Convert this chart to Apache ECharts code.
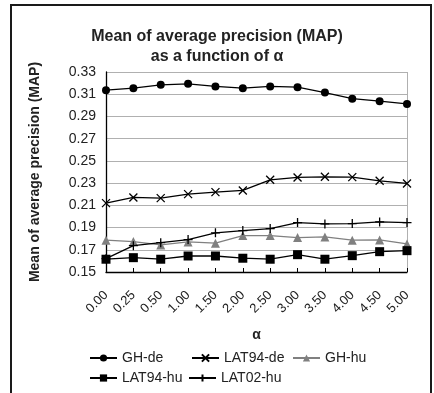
<!DOCTYPE html>
<html>
<head>
<meta charset="utf-8">
<script src="https://cdn.jsdelivr.net/npm/echarts@6/dist/echarts.min.js"></script>
<style>
  html, body { margin: 0; padding: 0; background: #fff; }
  #chart { width: 434px; height: 393px; }
</style>
</head>
<body>
<div id="chart"></div>
<script>
const alphas = ['0.00', '0.25', '0.50', '1.00', '1.50', '2.00', '2.50', '3.00', '3.50', '4.00', '4.50', '5.00']
const ghDe = [0.3136, 0.3154, 0.3185, 0.3194, 0.317, 0.3154, 0.317, 0.3163, 0.3115, 0.306, 0.3037, 0.3013]
const lat94De = [0.212, 0.2171, 0.2165, 0.2201, 0.2219, 0.2234, 0.233, 0.2351, 0.2357, 0.2354, 0.2321, 0.2297]
const ghHu = [0.1786, 0.1774, 0.1744, 0.1771, 0.1759, 0.1828, 0.1828, 0.181, 0.1816, 0.1786, 0.1789, 0.1753]
const lat94Hu = [0.1615, 0.1629, 0.1615, 0.1644, 0.1644, 0.1624, 0.1615, 0.1656, 0.1615, 0.1647, 0.1683, 0.1692]
const lat02Hu = [0.162, 0.1737, 0.1764, 0.1792, 0.1853, 0.1873, 0.1891, 0.1945, 0.1933, 0.1936, 0.1951, 0.1945]

const FONT = 'Liberation Sans, Arial, sans-serif'
const CROSS = 'path://M0,0L10,10M10,0L0,10'
const PLUS = 'path://M5,0L5,10M0,5L10,5'

const chart = echarts.init(document.getElementById('chart'))

const line = (name, data, opts) => ({
  name,
  type: 'line',
  data,
  lineStyle: { color: opts.color, width: 1.3 },
  itemStyle: { color: opts.fill ?? opts.color, borderColor: opts.color, borderWidth: opts.border ?? 0 },
  symbol: opts.symbol,
  symbolSize: opts.size,
  showAllSymbol: true,
  animation: false,
  z: opts.z ?? 2,
})

const legendAt = (name, left, top) => ({
  data: [name],
  left,
  top,
  itemWidth: 27,
  itemHeight: 9,
  textStyle: { fontFamily: FONT, fontSize: 14, color: '#222' },
  itemGap: 0,
  padding: 0,
})

chart.setOption({
  animation: false,
  title: {
    text: 'Mean of average precision (MAP)\nas a function of α',
    left: 'center',
    top: 22,
    textStyle: { fontFamily: FONT, fontSize: 16, fontWeight: 'bold', color: '#222', lineHeight: 20 },
  },
  grid: { left: 106, right: 27, top: 72, bottom: 121 },
  xAxis: {
    type: 'category',
    data: alphas,
    boundaryGap: false,
    name: 'α',
    nameLocation: 'middle',
    nameGap: 56,
    nameTextStyle: { fontFamily: FONT, fontSize: 14, fontWeight: 'bold', color: '#222' },
    axisLine: { lineStyle: { color: '#000', width: 1.3 } },
    axisTick: { inside: true, length: 4, alignWithLabel: true, lineStyle: { color: '#000' } },
    axisLabel: { rotate: 45, fontFamily: FONT, fontSize: 13, color: '#222', margin: 21, interval: 0 },
    splitLine: { show: false },
  },
  yAxis: {
    type: 'value',
    min: 0.15,
    max: 0.33,
    interval: 0.02,
    name: 'Mean of average precision (MAP)',
    nameLocation: 'middle',
    nameGap: 64,
    nameTextStyle: { fontFamily: FONT, fontSize: 14, fontWeight: 'bold', color: '#222' },
    axisLine: { show: true, lineStyle: { color: '#000', width: 1.3 } },
    axisTick: { show: false },
    axisLabel: { fontFamily: FONT, fontSize: 14, color: '#222', margin: 10, formatter: v => v.toFixed(2) },
    splitLine: { lineStyle: { color: '#b0b0b0', width: 1 } },
  },
  legend: [
    legendAt('GH-de', 89, 351),
    legendAt('LAT94-de', 191, 351),
    legendAt('GH-hu', 292, 351),
    legendAt('LAT94-hu', 89, 371),
    legendAt('LAT02-hu', 188, 371),
  ],
  graphic: [
    {
      type: 'rect',
      shape: { x: 11, y: 5, width: 420, height: 400 },
      style: { fill: 'none', stroke: '#1a1a1a', lineWidth: 2 },
      silent: true,
    },
    {
      type: 'line',
      shape: { x1: 407.5, y1: 72, x2: 407.5, y2: 272 },
      style: { stroke: '#b0b0b0', lineWidth: 1 },
      silent: true,
    },
  ],
  series: [
    line('GH-de', ghDe, { color: '#000', symbol: 'circle', size: 8 }),
    line('LAT94-de', lat94De, { color: '#000', symbol: CROSS, size: 8, border: 1.3 }),
    line('GH-hu', ghHu, { color: '#808080', symbol: 'triangle', size: 9, z: 1 }),
    line('LAT94-hu', lat94Hu, { color: '#000', symbol: 'rect', size: 9 }),
    line('LAT02-hu', lat02Hu, { color: '#000', symbol: PLUS, size: 9, border: 1.3 }),
  ],
})
</script>
</body>
</html>
